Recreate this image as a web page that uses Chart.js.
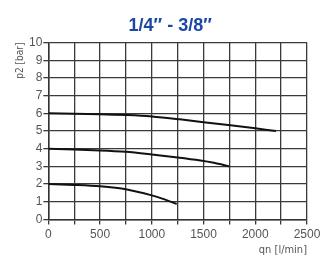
<!DOCTYPE html>
<html>
<head>
<meta charset="utf-8">
<script src="https://cdn.jsdelivr.net/npm/chart.js@4"></script>
<style>
  html, body { margin: 0; padding: 0; background: #fff; }
  #wrap { width: 325px; height: 257px; }
</style>
</head>
<body>
<div id="wrap"><canvas id="myChart" width="325" height="257"></canvas></div>
<script>
// flow qn [l/min] and outlet pressure p2 [bar] for the three set points
const flow6 = [0, 500, 760, 1000, 1270, 1500, 1760, 2000, 2200];
const p6 = [6.0, 5.95, 5.9, 5.82, 5.66, 5.5, 5.32, 5.15, 5.0];
const flow4 = [0, 500, 750, 1000, 1250, 1470, 1600, 1750];
const p4 = [4.0, 3.9, 3.82, 3.67, 3.5, 3.33, 3.2, 3.0];
const flow2 = [0, 250, 500, 760, 1000, 1130, 1240];
const p2 = [2.0, 1.95, 1.87, 1.69, 1.36, 1.12, 0.87];
const xTicks = [0, 500, 1000, 1500, 2000, 2500];
const title = '1/4\u2033 - 3/8\u2033   ';

const narrow = "'DejaVu Sans Condensed', sans-serif";
const plain = "'Liberation Sans', Arial, sans-serif";

function pts(xs, ys) {
  let out = [];
  for (let i = 0; i < xs.length; i++) out.push({x: xs[i], y: ys[i]});
  return out;
}

const lineStyle = {
  showLine: true,
  borderColor: '#111',
  borderWidth: 2,
  pointRadius: 0,
  tension: 0.3,
  fill: false
};

const ctx = document.getElementById('myChart');
new Chart(ctx, {
  type: 'scatter',
  data: {
    datasets: [
      Object.assign({data: pts(flow6, p6)}, lineStyle),
      Object.assign({data: pts(flow4, p4)}, lineStyle),
      Object.assign({data: pts(flow2, p2)}, lineStyle)
    ]
  },
  options: {
    responsive: false,
    animation: false,
    layout: { padding: { left: 14, right: 18, top: 4, bottom: 0 } },
    plugins: {
      legend: { display: false },
      tooltip: { enabled: false },
      title: {
        display: true,
        fullSize: false,
        text: title,
        color: '#1d47a6',
        font: { family: plain, size: 18, weight: 'bold' },
        padding: { top: 11, bottom: 6 }
      }
    },
    scales: {
      x: {
        type: 'linear',
        min: 0, max: 2500,
        ticks: {
          stepSize: 250,
          color: '#555',
          font: { family: plain, size: 12 },
          callback: v => xTicks.includes(v) ? String(v) : '',
          maxRotation: 0,
          autoSkip: false,
          padding: 3
        },
        grid: { color: '#3a3a3a', lineWidth: 1.3, tickLength: 5, drawTicks: true },
        border: { color: '#333', width: 1.5 },
        title: {
          display: true, text: 'qn [l/min]', align: 'end', color: '#555',
          font: { family: narrow, size: 11 },
          padding: { top: -1, bottom: 0 }
        }
      },
      y: {
        min: 0, max: 10,
        ticks: {
          stepSize: 1,
          autoSkip: false,
          color: '#555',
          font: { family: plain, size: 12 },
          padding: 1
        },
        grid: { color: '#3a3a3a', lineWidth: 1.3, tickLength: 5 },
        border: { color: '#333', width: 1.5 },
        title: {
          display: true, text: 'p2 [bar]', align: 'end', color: '#555',
          font: { family: narrow, size: 10 },
          padding: { top: 0, bottom: 2 }
        }
      }
    }
  }
});
</script>
</body>
</html>
